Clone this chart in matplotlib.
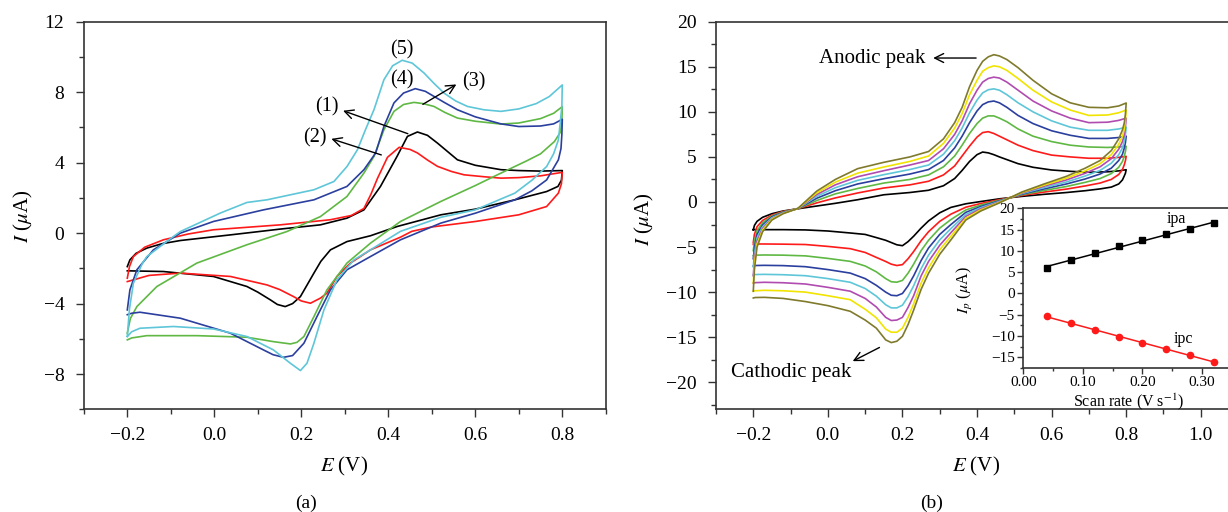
import numpy as np
import matplotlib
matplotlib.use('Agg')
import matplotlib.pyplot as plt
from matplotlib.ticker import MultipleLocator, FormatStrFormatter, FuncFormatter

plt.rcParams['font.family'] = ['Liberation Serif', 'DejaVu Serif']
plt.rcParams['mathtext.fontset'] = 'stix'

# ---------------- panel (a): CVs of the five electrodes (forward sweep then reverse sweep)
a1_E = [-0.2, -0.194, -0.18, -0.155, -0.12, -0.078, 0.037, 0.152, 0.244, 0.305, 0.344, 0.382, 0.42, 0.444, 0.467, 0.49,
        0.513, 0.559, 0.6, 0.659, 0.7, 0.75, 0.8,
        0.798, 0.79, 0.764, 0.691, 0.6, 0.521, 0.421, 0.359, 0.305, 0.267, 0.245, 0.229, 0.198, 0.18, 0.163, 0.145,
        0.129, 0.1, 0.075, -0.002, -0.117, -0.2]
a1_I = [-1.9, -1.52, -1.15, -0.85, -0.6, -0.42, -0.1, 0.23, 0.47, 0.85, 1.32, 2.65, 4.35, 5.49, 5.74, 5.55,
        5.11, 4.16, 3.85, 3.6, 3.55, 3.52, 3.55,
        3.0, 2.65, 2.36, 1.89, 1.36, 1.04, 0.38, -0.15, -0.48, -0.95, -1.6, -2.27, -3.6, -4.0, -4.17, -4.05,
        -3.79, -3.35, -3.03, -2.46, -2.18, -2.14]

a2_E = [-0.2, -0.195, -0.186, -0.16, -0.117, -0.06, -0.002, 0.152, 0.267, 0.315, 0.344, 0.36, 0.375, 0.398, 0.425,
        0.45, 0.467, 0.49, 0.513, 0.545, 0.574, 0.62, 0.659, 0.7, 0.75, 0.8,
        0.798, 0.791, 0.764, 0.7, 0.6, 0.5, 0.454, 0.428, 0.359, 0.313, 0.282, 0.259, 0.244, 0.221, 0.2, 0.182,
        0.15, 0.121, 0.037, -0.078, -0.15, -0.194, -0.2]
a2_I = [-2.56, -1.9, -1.33, -0.8, -0.38, -0.05, 0.19, 0.47, 0.76, 1.0, 1.4, 2.2, 3.1, 4.3, 4.87,
        4.75, 4.55, 4.15, 3.79, 3.5, 3.31, 3.2, 3.12, 3.15, 3.25, 3.45,
        2.8, 2.27, 1.51, 1.04, 0.66, 0.35, 0.1, -0.23, -0.95, -1.7, -2.46, -3.41, -3.69, -3.98, -3.85, -3.6,
        -3.2, -2.94, -2.46, -2.27, -2.4, -2.71, -2.75]

a3_E = [-0.2, -0.193, -0.178, -0.132, -0.04, 0.075, 0.167, 0.244, 0.305, 0.344, 0.367, 0.39, 0.413, 0.435, 0.459,
        0.48, 0.505, 0.53, 0.559, 0.6, 0.659, 0.7, 0.75, 0.78, 0.8,
        0.799, 0.795, 0.782, 0.75, 0.718, 0.65, 0.6, 0.521, 0.428, 0.359, 0.305, 0.259, 0.229, 0.206, 0.19,
        0.175, 0.136, 0.075, -0.04, -0.155, -0.19, -0.2]
a3_I = [-5.68, -4.85, -4.17, -3.03, -1.7, -0.66, 0.09, 0.94, 2.08, 3.41, 4.35, 5.87, 6.91, 7.3, 7.42,
        7.35, 7.19, 6.85, 6.53, 6.35, 6.19, 6.25, 6.5, 6.8, 7.18,
        6.3, 5.7, 5.2, 4.5, 4.1, 3.3, 2.7, 1.8, 0.66, -0.57, -1.7, -3.22, -4.74, -5.87, -6.2,
        -6.29, -6.16, -5.91, -5.82, -5.82, -5.95, -6.06]

a4_E = [-0.2, -0.194, -0.178, -0.14, -0.078, -0.002, 0.113, 0.229, 0.305, 0.344, 0.371, 0.39, 0.413, 0.435, 0.462,
        0.485, 0.505, 0.53, 0.559, 0.6, 0.659, 0.7, 0.75, 0.78, 0.8,
        0.799, 0.797, 0.791, 0.764, 0.73, 0.691, 0.6, 0.521, 0.428, 0.359, 0.305, 0.267, 0.236, 0.206, 0.18,
        0.159, 0.135, 0.113, 0.037, -0.078, -0.171, -0.19, -0.2]
a4_I = [-4.36, -3.22, -2.08, -0.95, 0.0, 0.66, 1.32, 1.89, 2.65, 3.6, 4.55, 6.06, 7.39, 7.95, 8.2,
        8.05, 7.76, 7.4, 7.0, 6.6, 6.2, 6.05, 6.08, 6.2, 6.46,
        5.6, 4.8, 4.16, 3.02, 2.4, 1.89, 1.13, 0.57, -0.38, -1.33, -2.08, -3.22, -4.74, -6.25, -6.95,
        -7.05, -6.9, -6.63, -5.68, -4.83, -4.49, -4.55, -4.63]

a5_E = [-0.2, -0.195, -0.186, -0.165, -0.155, -0.1, -0.078, 0.014, 0.075, 0.121, 0.229, 0.275, 0.305, 0.329, 0.348,
        0.367, 0.39, 0.41, 0.432, 0.455, 0.482, 0.505, 0.528, 0.555, 0.582, 0.62, 0.659, 0.7, 0.74, 0.77, 0.8,
        0.799, 0.795, 0.791, 0.78, 0.764, 0.73, 0.691, 0.6, 0.521, 0.428, 0.359, 0.321, 0.282, 0.252, 0.229,
        0.213, 0.198, 0.175, 0.136, 0.075, -0.002, -0.094, -0.171, -0.19, -0.2]
a5_I = [-5.86, -4.3, -2.84, -1.7, -1.33, -0.3, 0.09, 1.14, 1.74, 1.89, 2.46, 2.93, 3.78, 4.73, 5.9,
        7.0, 8.71, 9.5, 9.81, 9.65, 9.09, 8.5, 7.95, 7.5, 7.19, 7.0, 6.91, 7.05, 7.35, 7.75, 8.41,
        7.2, 6.2, 5.29, 4.5, 3.78, 3.0, 2.27, 1.32, 0.9, 0.1, -0.95, -1.52, -2.65, -4.36, -6.25,
        -7.39, -7.8, -7.39, -6.63, -5.87, -5.44, -5.3, -5.4, -5.6, -5.87]

a_colors = ['#000000', '#ff1a1a', '#5fb843', '#2b3f9e', '#5ec6d8']

# ---------------- panel (b): CVs at 8 scan rates
E_fwd = [-0.2, -0.197, -0.19, -0.175, -0.15, -0.12, -0.08, -0.03, 0.02, 0.08, 0.15, 0.22, 0.27, 0.31, 0.34, 0.36,
         0.38, 0.40, 0.415, 0.43, 0.445, 0.46, 0.48, 0.51, 0.55, 0.60, 0.65, 0.70, 0.75, 0.78, 0.80]
E_rev = [0.8, 0.798, 0.795, 0.79, 0.78, 0.76, 0.73, 0.69, 0.64, 0.58, 0.52, 0.46, 0.41, 0.37, 0.33, 0.30, 0.27,
         0.25, 0.23, 0.215, 0.20, 0.185, 0.17, 0.155, 0.13, 0.10, 0.06, 0.0, -0.06, -0.12, -0.17, -0.195, -0.2]

fwd_black = [-3.1, -2.6, -2.15, -1.7, -1.3, -1.0, -0.75, -0.45, -0.15, 0.25, 0.8, 1.05, 1.3, 1.8, 2.6, 3.5,
             4.5, 5.25, 5.54, 5.45, 5.25, 5.0, 4.7, 4.25, 3.85, 3.55, 3.4, 3.3, 3.35, 3.45, 3.58]
fwd_red = [-4.5, -3.6, -2.75, -2.05, -1.45, -1.05, -0.75, -0.1, 0.45, 1.0, 1.55, 1.9, 2.3, 3.0, 4.0, 5.1,
           6.2, 7.2, 7.7, 7.8, 7.6, 7.3, 6.9, 6.3, 5.7, 5.2, 5.0, 4.85, 4.85, 4.95, 5.06]
fwd_green = [-5.4, -4.4, -3.2, -2.3, -1.55, -1.1, -0.74, 0.16, 0.9, 1.5, 2.1, 2.5, 3.0, 3.9, 5.1, 6.3,
             7.6, 8.7, 9.3, 9.55, 9.55, 9.3, 8.9, 8.1, 7.3, 6.7, 6.3, 6.1, 6.05, 6.1, 6.17]
fwd_blue = [-6.3, -5.1, -3.6, -2.55, -1.65, -1.15, -0.73, 0.41, 1.25, 2.0, 2.58, 3.1, 3.6, 4.6, 6.0, 7.3,
            8.8, 10.1, 10.8, 11.1, 11.2, 11.0, 10.5, 9.6, 8.7, 7.9, 7.4, 7.05, 7.05, 7.15, 7.3]
fwd_cyan = [-7.2, -5.8, -4.0, -2.75, -1.75, -1.2, -0.72, 0.62, 1.58, 2.4, 3.03, 3.6, 4.1, 5.3, 6.8, 8.2,
            9.9, 11.3, 12.1, 12.45, 12.55, 12.4, 11.9, 11.0, 10.0, 9.0, 8.3, 7.95, 7.95, 8.1, 8.3]
fwd_magenta = [-8.2, -6.4, -4.35, -2.95, -1.85, -1.23, -0.72, 0.82, 1.9, 2.8, 3.47, 4.1, 4.6, 5.9, 7.5, 9.0,
               10.9, 12.4, 13.3, 13.7, 13.85, 13.75, 13.3, 12.4, 11.2, 10.1, 9.3, 8.8, 8.85, 9.05, 9.3]
fwd_yellow = [-9.0, -6.9, -4.65, -3.1, -1.9, -1.27, -0.71, 1.0, 2.2, 3.2, 3.88, 4.5, 5.1, 6.5, 8.2, 9.8,
              11.9, 13.5, 14.5, 14.9, 15.1, 15.0, 14.6, 13.7, 12.4, 11.1, 10.2, 9.6, 9.65, 9.9, 10.2]
fwd_olive = [-9.9, -7.5, -5.0, -3.3, -2.0, -1.3, -0.7, 1.2, 2.5, 3.7, 4.4, 5.0, 5.6, 7.0, 8.8, 10.5,
             12.8, 14.6, 15.6, 16.1, 16.34, 16.2, 15.8, 14.9, 13.5, 12.0, 11.0, 10.5, 10.45, 10.65, 10.98]

rev_black = [3.58, 3.2, 2.9, 2.45, 2.0, 1.65, 1.45, 1.25, 1.05, 0.85, 0.62, 0.35, 0.05, -0.2, -0.6, -1.2, -2.1,
             -2.9, -3.8, -4.4, -4.85, -4.75, -4.5, -4.25, -3.95, -3.6, -3.44, -3.22, -3.1, -3.07, -3.07, -3.07, -3.07]
rev_red = [5.06, 4.6, 4.15, 3.6, 3.05, 2.5, 2.1, 1.78, 1.43, 1.1, 0.72, 0.26, -0.17, -0.58, -1.35, -2.15, -3.3,
           -4.3, -5.5, -6.3, -6.95, -7.05, -6.9, -6.6, -6.15, -5.6, -5.18, -4.93, -4.72, -4.68, -4.66, -4.66, -4.7]
rev_green = [6.17, 5.6, 5.1, 4.5, 3.85, 3.15, 2.6, 2.18, 1.72, 1.28, 0.8, 0.18, -0.34, -0.88, -1.95, -2.9, -4.25,
             -5.4, -6.9, -7.9, -8.7, -8.9, -8.85, -8.5, -7.75, -7.1, -6.59, -6.26, -5.98, -5.9, -5.88, -5.9, -5.95]
rev_blue = [7.3, 6.6, 6.0, 5.3, 4.6, 3.75, 3.1, 2.55, 2.0, 1.45, 0.87, 0.12, -0.5, -1.15, -2.5, -3.6, -5.1,
            -6.5, -8.2, -9.3, -10.15, -10.4, -10.35, -10.0, -9.25, -8.5, -7.89, -7.5, -7.18, -7.06, -7.03, -7.05, -7.1]
rev_cyan = [8.3, 7.5, 6.75, 6.0, 5.25, 4.3, 3.5, 2.88, 2.22, 1.6, 0.93, 0.06, -0.63, -1.38, -2.95, -4.2, -5.9,
            -7.4, -9.3, -10.5, -11.45, -11.75, -11.75, -11.4, -10.45, -9.6, -8.91, -8.5, -8.18, -8.07, -8.03, -8.05, -8.1]
rev_magenta = [9.3, 8.4, 7.5, 6.7, 5.85, 4.8, 3.9, 3.18, 2.45, 1.75, 0.99, 0.0, -0.76, -1.6, -3.4, -4.8, -6.6,
               -8.2, -10.4, -11.7, -12.8, -13.1, -13.15, -12.8, -11.65, -10.7, -9.9, -9.47, -9.1, -8.96, -8.91, -8.95, -9.0]
rev_yellow = [10.2, 9.1, 8.1, 7.3, 6.4, 5.25, 4.25, 3.45, 2.65, 1.87, 1.05, -0.05, -0.88, -1.8, -3.8, -5.3, -7.3,
              -9.0, -11.3, -12.8, -14.0, -14.45, -14.45, -14.1, -12.85, -11.9, -10.84, -10.4, -10.0, -9.85, -9.8, -9.85, -9.9]
rev_olive = [10.98, 9.8, 8.8, 8.0, 7.0, 5.7, 4.6, 3.75, 2.85, 2.0, 1.1, -0.1, -1.0, -2.0, -4.2, -5.8, -7.9,
             -9.7, -12.0, -13.6, -14.9, -15.45, -15.6, -15.3, -14.0, -13.1, -12.13, -11.5, -11.05, -10.7, -10.58, -10.6, -10.65]

b_colors = ['#000000', '#ff1a1a', '#5fb843', '#2b3f9e', '#5ec6d8', '#b04cb0', '#f0e400', '#7f7a2c']

# inset: peak current vs scan rate
scan_rate = [0.04, 0.08, 0.12, 0.16, 0.20, 0.24, 0.28, 0.32]
ipa = [5.96, 7.84, 9.56, 11.05, 12.46, 13.87, 15.13, 16.54]
ipc = [-5.25, -7.05, -8.70, -10.27, -11.68, -13.09, -14.42, -16.07]

# x tick labels with a real minus sign
minus_fmt = FuncFormatter(lambda v, p: ('%.1f' % v).replace('-', '\u2212'))


def style_axes(ax, fs, pad_x, pad_y, major_len=6, minor_len=3.5):
    ax.tick_params(which='both', direction='out', top=False, right=False, width=1.0, color='#333333')
    ax.tick_params(which='major', length=major_len, labelsize=fs)
    ax.tick_params(which='minor', length=minor_len)
    ax.tick_params(axis='x', which='major', pad=pad_x)
    ax.tick_params(axis='y', which='major', pad=pad_y)
    for s in ax.spines.values():
        s.set_linewidth(1.2)
        s.set_color('#333333')


fig = plt.figure(figsize=(12.28, 5.12), dpi=100)

# ---------------- (a)
ax_a = fig.add_axes([0.06824, 0.20059, 0.42508, 0.75703])
for E, I, c in zip([a1_E, a2_E, a3_E, a4_E, a5_E], [a1_I, a2_I, a3_I, a4_I, a5_I], a_colors):
    ax_a.plot(E, I, color=c, lw=1.2)
ax_a.set_xlim(-0.3, 0.9)
ax_a.set_ylim(-10, 12)
ax_a.xaxis.set_major_locator(MultipleLocator(0.2))
ax_a.xaxis.set_minor_locator(MultipleLocator(0.1))
ax_a.yaxis.set_major_locator(MultipleLocator(4))
ax_a.yaxis.set_minor_locator(MultipleLocator(2))
ax_a.xaxis.set_major_formatter(minus_fmt)
style_axes(ax_a, 14, 7, 8)
ax_a.set_xlabel(r'$E$ (V)', fontsize=15, va='center')
ax_a.xaxis.set_label_coords(0.498, -0.148)
ax_a.set_ylabel(r'$I$ ($\mu$A)', fontsize=15, va='center')
ax_a.yaxis.set_label_coords(-0.115, 0.497)

arrow = dict(arrowstyle='->', lw=1.0, color='black', mutation_scale=16)
ax_a.text(0.432, 10.41, '(5)', fontsize=14.5, ha='center', va='center')
ax_a.text(0.432, 8.71, '(4)', fontsize=14.5, ha='center', va='center')
ax_a.text(0.597, 8.61, '(3)', fontsize=14.5, ha='center', va='center')
ax_a.annotate('', xy=(0.562, 8.52), xytext=(0.474, 7.23), arrowprops=arrow)
ax_a.text(0.259, 7.16, '(1)', fontsize=14.5, ha='center', va='center')
ax_a.annotate('', xy=(0.29, 7.0), xytext=(0.451, 5.59), arrowprops=arrow)
ax_a.text(0.232, 5.4, '(2)', fontsize=14.5, ha='center', va='center')
ax_a.annotate('', xy=(0.263, 5.4), xytext=(0.39, 4.39), arrowprops=arrow)

# ---------------- (b)
ax_b = fig.add_axes([0.58306, 0.20059, 0.41694, 0.75703])
fwd_all = [fwd_black, fwd_red, fwd_green, fwd_blue, fwd_cyan, fwd_magenta, fwd_yellow, fwd_olive]
rev_all = [rev_black, rev_red, rev_green, rev_blue, rev_cyan, rev_magenta, rev_yellow, rev_olive]
for f, r, c in zip(fwd_all, rev_all, b_colors):
    ax_b.plot(E_fwd + E_rev, f + r, color=c, lw=1.2)
ax_b.set_xlim(-0.3, 1.073)
ax_b.set_ylim(-23, 20)
ax_b.xaxis.set_major_locator(MultipleLocator(0.2))
ax_b.xaxis.set_minor_locator(MultipleLocator(0.1))
ax_b.yaxis.set_major_locator(MultipleLocator(5))
ax_b.yaxis.set_minor_locator(MultipleLocator(2.5))
ax_b.xaxis.set_major_formatter(minus_fmt)
style_axes(ax_b, 14, 7, 8)
ax_b.spines['right'].set_visible(False)
ax_b.set_xlabel(r'$E$ (V)', fontsize=15, va='center')
ax_b.xaxis.set_label_coords(0.508, -0.148)
ax_b.set_ylabel(r'$I$ ($\mu$A)', fontsize=15, va='center')
ax_b.yaxis.set_label_coords(-0.139, 0.49)

ax_b.text(0.262, 15.97, 'Anodic peak', fontsize=15, ha='right', va='center')
ax_b.annotate('', xy=(0.275, 15.97), xytext=(0.405, 15.97), arrowprops=arrow)
ax_b.text(-0.261, -18.97, 'Cathodic peak', fontsize=15, ha='left', va='center')
ax_b.annotate('', xy=(0.06, -17.8), xytext=(0.145, -16.0), arrowprops=arrow)

# ---------------- inset
ax_in = fig.add_axes([0.83331, 0.28066, 0.16669, 0.3125])
ax_in.set_facecolor('white')
x_sr = np.array(scan_rate)
k_a, b_a = np.polyfit(x_sr, ipa, 1)
k_c, b_c = np.polyfit(x_sr, ipc, 1)
ax_in.plot(x_sr, k_a * x_sr + b_a, color='black', lw=1.1)
ax_in.plot(x_sr, k_c * x_sr + b_c, color='#ff1a1a', lw=1.1)
ax_in.plot(scan_rate, ipa, 's', color='black', ms=4.5)
ax_in.plot(scan_rate, ipc, 'o', color='#ff1a1a', ms=4.5)
ax_in.set_xlim(0, 0.3437)
ax_in.set_ylim(-17.6, 20)
ax_in.xaxis.set_major_locator(MultipleLocator(0.1))
ax_in.xaxis.set_minor_locator(MultipleLocator(0.05))
ax_in.yaxis.set_major_locator(MultipleLocator(5))
ax_in.yaxis.set_minor_locator(MultipleLocator(2.5))
ax_in.xaxis.set_major_formatter(FormatStrFormatter('%.2f'))
style_axes(ax_in, 11, 1.5, 2, major_len=4, minor_len=2.5)
ax_in.spines['right'].set_visible(False)
ax_in.set_xlabel(r'Scan rate (V s$^{-1}$)', fontsize=11.5, va='center')
ax_in.xaxis.set_label_coords(0.513, -0.209)
ax_in.set_ylabel(r'$I_p$ ($\mu$A)', fontsize=11.5, va='center')
ax_in.yaxis.set_label_coords(-0.285, 0.489)
ax_in.text(0.2574, 17.4, 'ipa', fontsize=11.5, ha='center', va='center')
ax_in.text(0.2686, -10.7, 'ipc', fontsize=11.5, ha='center', va='center')

fig.text(305.6 / 1228, 1 - 503 / 512, '(a)', fontsize=14, ha='center', va='center')
fig.text(932 / 1228, 1 - 503 / 512, '(b)', fontsize=14, ha='center', va='center')

fig.savefig('out.png', dpi=100)
